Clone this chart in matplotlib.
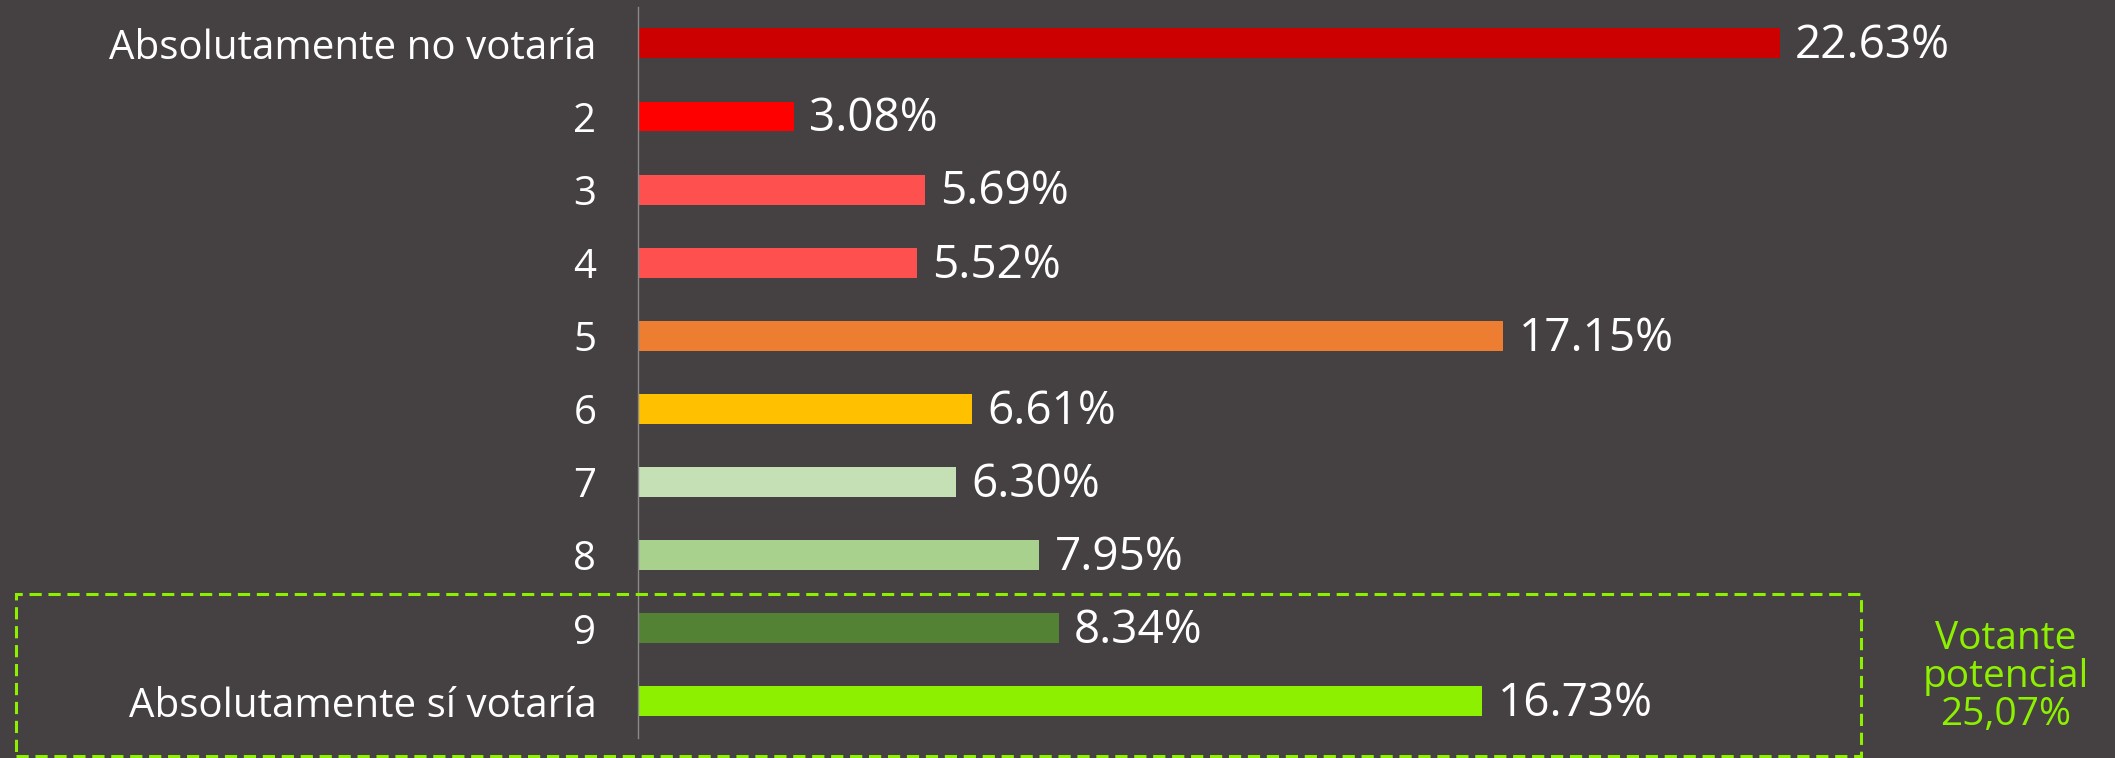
import matplotlib.pyplot as plt
import matplotlib.patches as mpatches

# Data
categories = ["Absolutamente no votaría", "2", "3", "4", "5", "6", "7", "8", "9", "Absolutamente sí votaría"]
values = [22.63, 3.08, 5.69, 5.52, 17.15, 6.61, 6.30, 7.95, 8.34, 16.73]
colors = ["#cc0000", "#ff0000", "#ff5050", "#ff5050", "#ed7d31", "#ffc000", "#c5e0b4", "#a9d18e", "#548235", "#8cf000"]
box_text = "Votante\npotencial\n25,07%"

bg = "#454042"
lime = "#8cf000"
plt.rcParams['font.family'] = ['Open Sans', 'DejaVu Sans']

fig = plt.figure(figsize=(21.15, 7.58), dpi=100, facecolor=bg)
ax = fig.add_axes([0.3017, 0.0264, 0.668, 0.9646])
ax.set_facecolor(bg)

ypos = list(range(len(categories)))
ax.barh(ypos, values, height=0.41, color=colors)
for y, v in zip(ypos, values):
    ax.annotate("%.2f%%" % v, (v, y), xytext=(11, -2), textcoords="offset points",
                va="center", ha="left", color="white", fontsize=33)

ax.set_ylim(len(categories) - 0.5, -0.5)
ax.set_xlim(0, 28)
ax.set_yticks(ypos)
ax.set_yticklabels(categories, fontsize=29, color="white")
ax.tick_params(axis="y", length=0, pad=30)
ax.set_xticks([])
for s in ["top", "right", "bottom"]:
    ax.spines[s].set_visible(False)
ax.spines["left"].set_color("#8a8a8a")
ax.spines["left"].set_linewidth(1)

# dashed box round the potential voters
box = mpatches.Rectangle((0.0076, 0.002), 0.8724, 0.2144, transform=fig.transFigure, fill=False,
                         edgecolor=lime, linewidth=2.2, linestyle=(0, (4, 2.2)), clip_on=False)
fig.patches.append(box)
fig.text(0.9485, 0.107, box_text, ha="center", va="center", color=lime, fontsize=28, linespacing=1.0)

plt.savefig("out.png", facecolor=bg)
